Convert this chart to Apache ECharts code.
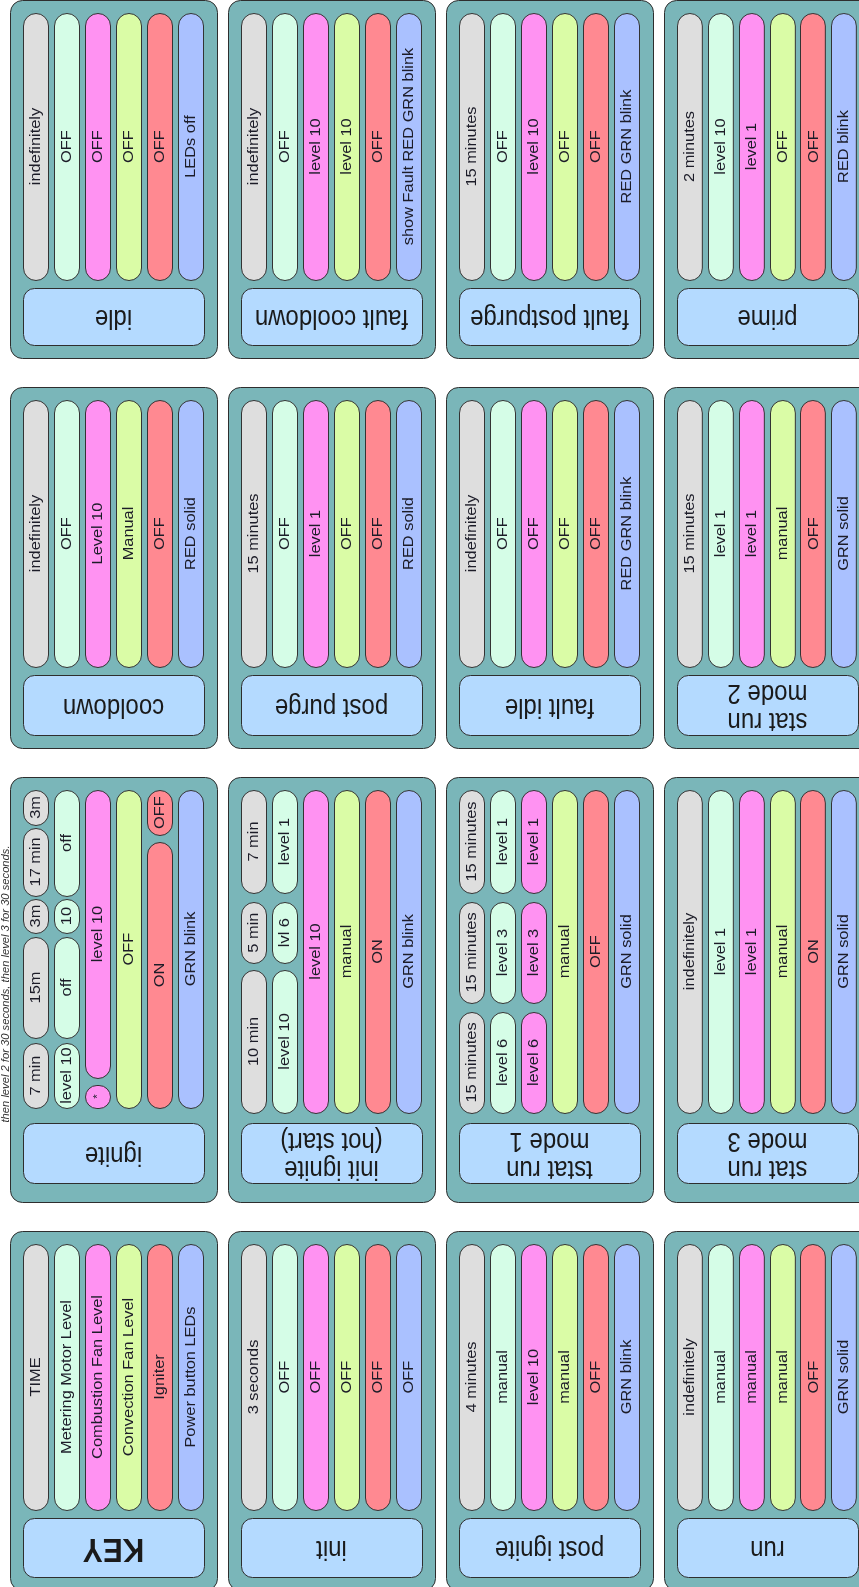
<!DOCTYPE html>
<html>
<head>
<meta charset="utf-8">
<script src="https://cdn.jsdelivr.net/npm/echarts@6/dist/echarts.min.js"></script>
<style>
html,body{margin:0;padding:0;background:#fff;}
#chart{width:859px;height:1587px;}
</style>
</head>
<body>
<div id="chart"></div>
<script>
// ---- data ----
const lanes = ['TIME', 'Metering Motor Level', 'Combustion Fan Level', 'Convection Fan Level', 'Igniter', 'Power button LEDs'];

const idle           = ['indefinitely', 'OFF', 'OFF', 'OFF', 'OFF', 'LEDs off'];
const faultCooldown  = ['indefinitely', 'OFF', 'level 10', 'level 10', 'OFF', 'show Fault RED GRN blink'];
const faultPostpurge = ['15 minutes', 'OFF', 'level 10', 'OFF', 'OFF', 'RED GRN blink'];
const prime          = ['2 minutes', 'level 10', 'level 1', 'OFF', 'OFF', 'RED blink'];
const cooldown       = ['indefinitely', 'OFF', 'Level 10', 'Manual', 'OFF', 'RED solid'];
const postPurge      = ['15 minutes', 'OFF', 'level 1', 'OFF', 'OFF', 'RED solid'];
const faultIdle      = ['indefinitely', 'OFF', 'OFF', 'OFF', 'OFF', 'RED GRN blink'];
const statRunMode2   = ['15 minutes', 'level 1', 'level 1', 'manual', 'OFF', 'GRN solid'];
const keyLanes       = lanes;
const init           = ['3 seconds', 'OFF', 'OFF', 'OFF', 'OFF', 'OFF'];
const postIgnite     = ['4 minutes', 'manual', 'level 10', 'manual', 'OFF', 'GRN blink'];
const run            = ['indefinitely', 'manual', 'manual', 'manual', 'OFF', 'GRN solid'];
const statRunMode3   = ['indefinitely', 'level 1', 'level 1', 'manual', 'ON', 'GRN solid'];

// segmented lanes: [label, start, end] on a 0-100 timeline
const ignite = [
  [['3m', 0, 11], ['17 min', 11.9, 33.3], ['3m', 34.3, 45], ['15m', 46.2, 78], ['7 min', 79.6, 100]],
  [['off', 0, 33.3], ['10', 34.3, 45], ['off', 46.2, 78], ['level 10', 79.6, 100]],
  [['level 10', 0, 90.6], ['*', 92.8, 100]],
  [['OFF', 0, 100]],
  [['OFF', 0, 14.2], ['ON', 16.4, 100]],
  [['GRN blink', 0, 100]]
];
const initIgnite = [
  [['7 min', 0, 31.9], ['5 min', 34.7, 53.6], ['10 min', 55.7, 100]],
  [['level 1', 0, 31.9], ['lvl 6', 34.7, 53.6], ['level 10', 55.7, 100]],
  [['level 10', 0, 100]],
  [['manual', 0, 100]],
  [['ON', 0, 100]],
  [['GRN blink', 0, 100]]
];
const tstatRunMode1 = [
  [['15 minutes', 0, 31.9], ['15 minutes', 34.7, 65.9], ['15 minutes', 68.7, 100]],
  [['level 1', 0, 31.9], ['level 3', 34.7, 65.9], ['level 6', 68.7, 100]],
  [['level 1', 0, 31.9], ['level 3', 34.7, 65.9], ['level 6', 68.7, 100]],
  [['manual', 0, 100]],
  [['OFF', 0, 100]],
  [['GRN solid', 0, 100]]
];

const titles = [
  ['idle', 'fault cooldown', 'fault postpurge', 'prime'],
  ['cooldown', 'post purge', 'fault idle', 'stat run\nmode 2'],
  ['ignite', 'init ignite\n(hot start)', 'tstat run\nmode 1', 'stat run\nmode 3'],
  ['KEY', 'init', 'post ignite', 'run']
];
const contents = [
  [idle, faultCooldown, faultPostpurge, prime],
  [cooldown, postPurge, faultIdle, statRunMode2],
  [ignite, initIgnite, tstatRunMode1, statRunMode3],
  [keyLanes, init, postIgnite, run]
];
const note = 'then level 2 for 30 seconds, then level 3 for 30 seconds.';

// ---- layout & style ----
const colX = [10, 228, 446, 664];
const panelW = 207;
const rowTop = [0, 387, 777, 1231];
const rowH = [358, 361, 425, 359];
const pillLen = [267, 267, 323, 266];
const titleTop = [288, 675, 1123, 1518];
const titleH = [57, 60, 60, 59];
const laneFill = ['#DEDEDE', '#D5FDE7', '#FF92F2', '#DAFCA6', '#FF8991', '#AAC1FF'];
const FONT = '"Liberation Sans", Arial, Helvetica, sans-serif';
const STRETCH = 1.17;

function normalize(content) {
  return content.map(l => Array.isArray(l) ? l : [[l, 0, 100]]);
}

const grids = [], xAxes = [], yAxes = [], series = [], graphics = [];
let gi = 0;
for (let r = 0; r < 4; r++) {
  for (let c = 0; c < 4; c++) {
    const isIgnite = (r === 2 && c === 0);
    const len = isIgnite ? 318 : pillLen[r];
    // panel background
    graphics.push({
      type: 'rect', z: 0,
      shape: { x: colX[c] + 0.5, y: rowTop[r] + 0.5, width: panelW, height: rowH[r], r: 12 },
      style: { fill: '#7AB6B9', stroke: '#2e2e2e', lineWidth: 1 }
    });
    // title box
    const tx = colX[c] + 13, ty = titleTop[r];
    graphics.push({
      type: 'rect', z: 1,
      shape: { x: tx + 0.5, y: ty + 0.5, width: 181, height: titleH[r], r: 11 },
      style: { fill: '#B4DAFF', stroke: '#2e2e2e', lineWidth: 1 }
    });
    const isKey = titles[r][c] === 'KEY';
    graphics.push({
      type: 'text', z: 2,
      x: tx + 90.5, y: ty + titleH[r] / 2 + 1,
      rotation: Math.PI, scaleY: 1.12,
      style: {
        text: titles[r][c], fill: '#1a1a1a',
        font: (isKey ? 'bold 30px ' : '24px ') + FONT,
        align: 'center', verticalAlign: 'middle', lineHeight: 25
      }
    });

    grids.push({ left: colX[c] + 10, top: rowTop[r] + 13, width: 186, height: len });
    xAxes.push({ type: 'category', gridIndex: gi, data: [0, 1, 2, 3, 4, 5], show: false, boundaryGap: true });
    yAxes.push({ type: 'value', gridIndex: gi, min: 0, max: 100, inverse: true, show: false });

    const segs = [];
    normalize(contents[r][c]).forEach((lane, li) => {
      lane.forEach(s => segs.push({ value: [li, s[1], s[2]], label: s[0] }));
    });
    const labels = segs.map(s => s.label);
    series.push({
      type: 'custom', xAxisIndex: gi, yAxisIndex: gi, z: 5,
      data: segs.map(s => s.value),
      silent: true,
      renderItem: function (params, api) {
        const li = api.value(0);
        const p0 = api.coord([li, api.value(1)]);
        const p1 = api.coord([li, api.value(2)]);
        const bw = api.size([1, 0])[0];
        const w = bw - 6;
        const h = p1[1] - p0[1];
        const txt = labels[params.dataIndex];
        const small = txt === '*';
        return {
          type: 'group',
          children: [
            {
              type: 'rect',
              shape: { x: Math.round(p0[0] - w / 2) + 0.5, y: Math.round(p0[1]) + 0.5, width: w, height: Math.round(h), r: Math.min(w / 2, h / 2) },
              style: { fill: laneFill[li], stroke: '#333', lineWidth: 1 }
            },
            {
              type: 'text',
              x: p0[0] + 1, y: (p0[1] + p1[1]) / 2,
              rotation: Math.PI / 2, scaleX: STRETCH,
              style: {
                text: txt, fill: '#1c1c28',
                font: (small ? '10px ' : '14px ') + FONT,
                align: 'center', verticalAlign: 'middle'
              }
            }
          ]
        };
      }
    });
    gi++;
  }
}

graphics.push({
  type: 'text', z: 3, x: 6, y: 984, rotation: Math.PI / 2, scaleX: 1.12,
  style: { text: note, fill: '#333', font: 'italic 10px ' + FONT, align: 'center', verticalAlign: 'middle' }
});

const chart = echarts.init(document.getElementById('chart'), null, { renderer: 'canvas' });
chart.setOption({
  animation: false,
  backgroundColor: '#ffffff',
  grid: grids,
  xAxis: xAxes,
  yAxis: yAxes,
  graphic: { elements: graphics },
  series: series
});
</script>
</body>
</html>
